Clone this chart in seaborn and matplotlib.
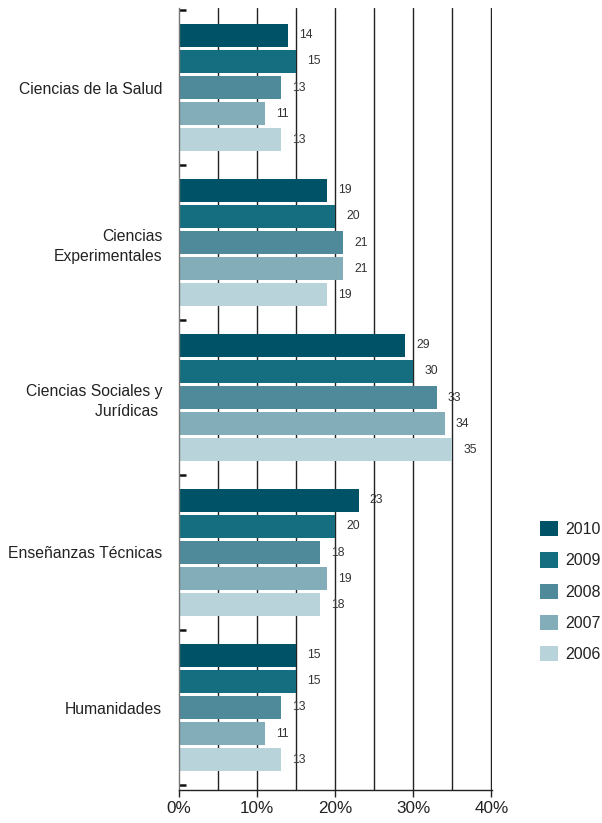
import matplotlib
matplotlib.use("Agg")
import matplotlib.pyplot as plt
import seaborn as sns
import pandas as pd
from matplotlib.ticker import FixedLocator, FuncFormatter
from matplotlib.patches import Patch

categories = ["Ciencias de la Salud", "Ciencias\nExperimentales", "Ciencias Sociales y\nJurídicas ",
              "Enseñanzas Técnicas", "Humanidades"]
years = ["2010", "2009", "2008", "2007", "2006"]
values = {
    "2010": [14, 19, 29, 23, 15],
    "2009": [15, 20, 30, 20, 15],
    "2008": [13, 21, 33, 18, 13],
    "2007": [11, 21, 34, 19, 11],
    "2006": [13, 19, 35, 18, 13],
}
colors = ["#005366", "#156e80", "#4f8a9a", "#82adb9", "#b8d3da"]
x_ticks = [0, 10, 20, 30, 40]

rows = []
for y in years:
    for c, v in zip(categories, values[y]):
        rows.append({"cat": c, "year": y, "val": v})
df = pd.DataFrame(rows)

sns.set_style("white")
plt.rcParams["font.family"] = ["Liberation Sans", "DejaVu Sans"]

fig = plt.figure(figsize=(6.02, 8.23), dpi=100)
ax = fig.add_axes([179/602, 1-790/823, (492-179)/602, (790-8)/823])

sns.barplot(data=df, y="cat", x="val", hue="year", order=categories, hue_order=years,
            palette=colors, orient="h", width=0.84, gap=0.12, ax=ax, legend=False,
            saturation=1, edgecolor="none", linewidth=0)

for cont in ax.containers:
    ax.bar_label(cont, padding=8, fontsize=8.7, color="#333333")

ax.set_xlim(0, 40.08)
ax.set_ylim(4.5 + 5/155, -0.5 - 2/155)
ax.set_xlabel("")
ax.set_ylabel("")

ax.xaxis.set_major_locator(FixedLocator(x_ticks))
ax.xaxis.set_minor_locator(FixedLocator([5, 15, 25, 35]))
ax.xaxis.set_major_formatter(FuncFormatter(lambda v, p: f"{int(v)}%"))
ax.grid(axis="x", which="both", color="#222222", linewidth=1.0)
ax.set_axisbelow(True)
ax.get_xgridlines()[0].set_visible(False)
ax.tick_params(axis="x", which="major", direction="out", length=5, width=1, color="#222222",
               labelsize=12.3, pad=3, bottom=True, labelcolor="#222222")
ax.tick_params(axis="x", which="minor", length=0)

ax.yaxis.set_minor_locator(FixedLocator([-0.5, 0.5, 1.5, 2.5, 3.5, 4.5]))
ax.tick_params(axis="y", which="major", length=0, labelsize=11.3, pad=12, labelcolor="#222222")
ax.tick_params(axis="y", which="minor", direction="in", length=5, width=1.8, color="#111111", left=True)
for lab in ax.get_yticklabels():
    lab.set_multialignment("right")
    lab.set_linespacing(1.45)

for s in ["top", "right"]:
    ax.spines[s].set_visible(False)
ax.spines["left"].set_color("#777777")
ax.spines["left"].set_linewidth(1.0)
ax.spines["bottom"].set_color("#222222")
ax.spines["bottom"].set_linewidth(1.0)

handles = [Patch(facecolor=c, edgecolor="none") for c in colors]
fig.legend(handles, years, loc="upper left", bbox_to_anchor=(540/602, 1-521/823),
           frameon=False, fontsize=11.5, handlelength=1.1, handleheight=1.1,
           labelspacing=0.95, handletextpad=0.5, borderpad=0, borderaxespad=0,
           labelcolor="#222222")

fig.savefig("out.png", dpi=100)
